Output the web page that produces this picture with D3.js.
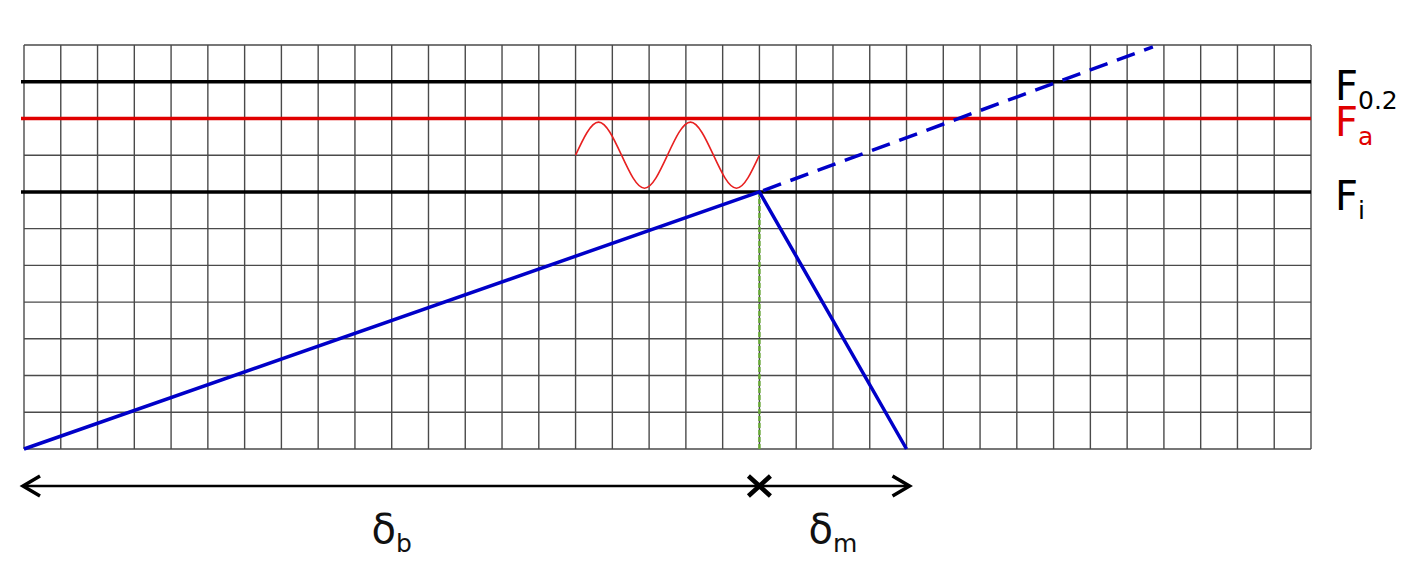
<!DOCTYPE html>
<html><head><meta charset="utf-8">
<script src="https://cdn.jsdelivr.net/npm/d3@7"></script>
<style>body{margin:0;background:#fff}svg{display:block}</style>
</head><body><div id="chart"></div>
<script>
// ---- data ----
const colCount = 35;                 // grid columns
const rowCount = 11;                 // grid rows
const levelMain = ["F", "F", "F"];
const levelSub = ["0.2", "a", "i"];
const levelValues = [10, 9, 7];      // grid rows from bottom
const loadX = [0, 20, 24];
const loadY = [0, 7, 0];
const extX = [20, 30.7];
const extY = [7, 10.95];
const waveX = [15, 15.625, 16.25, 16.875, 17.5, 18.125, 18.75, 19.375, 20];
const waveY = [8, 8.9, 8, 7.1, 8, 8.9, 8, 7.1, 8];
const deltaBounds = [0, 20, 24];
const deltaMain = ["δ", "δ"];
const deltaSub = ["b", "m"];

// ---- layout ----
const W = 1417, H = 582;
const svg = d3.select("#chart").append("svg").attr("width", W).attr("height", H);
const x = d3.scaleLinear().domain([0, colCount]).range([24, 1311]);
const y = d3.scaleLinear().domain([0, rowCount]).range([449, 45]);
const font = "'DejaVu Sans', sans-serif";

// grid
const g = svg.append("g");
g.selectAll("line.v").data(d3.range(colCount + 1)).join("line")
  .attr("x1", d => x(d)).attr("x2", d => x(d))
  .attr("y1", y(0)).attr("y2", y(rowCount))
  .attr("stroke", "#4a4a4a").attr("stroke-width", 1.4);
g.selectAll("line.h").data(d3.range(rowCount + 1)).join("line")
  .attr("y1", d => y(d)).attr("y2", d => y(d))
  .attr("x1", x(0)).attr("x2", x(colCount))
  .attr("stroke", "#4a4a4a").attr("stroke-width", 1.4);

// level lines
const levelColors = ["#000", "#e00000", "#000"];
svg.selectAll("line.level").data(levelValues).join("line")
  .attr("x1", x(0) - 3).attr("x2", x(colCount))
  .attr("y1", d => y(d)).attr("y2", d => y(d))
  .attr("stroke", (d, i) => levelColors[i]).attr("stroke-width", 3.5);

// level labels
levelValues.forEach((v, i) => {
  const t = svg.append("text").attr("x", 1335).attr("y", y(v) + 18)
    .attr("font-family", font).attr("font-size", 40).attr("fill", levelColors[i]);
  t.append("tspan").text(levelMain[i]);
  t.append("tspan").attr("dy", 9).attr("font-size", 25).text(levelSub[i]);
});

// wave
const line = d3.line().x(d => x(d[0])).y(d => y(d[1]));
svg.append("path").datum(waveX.map((d, i) => [d, waveY[i]]))
  .attr("d", line.curve(d3.curveNatural))
  .attr("fill", "none").attr("stroke", "#e82020").attr("stroke-width", 1.6);

// green dashed vertical
svg.append("line").attr("x1", x(loadX[1])).attr("x2", x(loadX[1]))
  .attr("y1", y(loadY[1])).attr("y2", y(0))
  .attr("stroke", "#66aa33").attr("stroke-width", 2.4).attr("stroke-dasharray", "5,2");

// blue loading path
const line2 = d3.line().x(d => x(d[0])).y(d => y(d[1]));
svg.append("path").datum(loadX.map((d, i) => [d, loadY[i]]))
  .attr("d", line2).attr("fill", "none").attr("stroke", "#0000c8")
  .attr("stroke-width", 3.5).attr("stroke-linejoin", "round");
svg.append("path").datum(extX.map((d, i) => [d, extY[i]]))
  .attr("d", line2).attr("fill", "none").attr("stroke", "#0000c8")
  .attr("stroke-width", 3.5).attr("stroke-dasharray", "19,10").attr("stroke-dashoffset", -4);

// delta arrows
const ay = 486;
const xa = x(deltaBounds[0]), xb = x(deltaBounds[2]), xm = x(deltaBounds[1]);
svg.append("line").attr("x1", xa + 1).attr("x2", xb + 1).attr("y1", ay).attr("y2", ay)
  .attr("stroke", "#000").attr("stroke-width", 2.5);
svg.append("path").attr("d", `M${xa + 16},${ay - 10} L${xa - 1},${ay} L${xa + 16},${ay + 10}`)
  .attr("fill", "none").attr("stroke", "#000").attr("stroke-width", 3.5).attr("stroke-linejoin", "miter");
svg.append("path").attr("d", `M${xb - 14},${ay - 10} L${xb + 3},${ay} L${xb - 14},${ay + 10}`)
  .attr("fill", "none").attr("stroke", "#000").attr("stroke-width", 3.5).attr("stroke-linejoin", "miter");
svg.append("path").attr("d", `M${xm - 11},${ay - 10} L${xm + 11},${ay + 10} M${xm - 11},${ay + 10} L${xm + 11},${ay - 10}`)
  .attr("stroke", "#000").attr("stroke-width", 4.5);

// delta labels
deltaSub.forEach((s, i) => {
  const cx = (x(deltaBounds[i]) + x(deltaBounds[i + 1])) / 2;
  const t = svg.append("text").attr("x", cx).attr("y", 543).attr("text-anchor", "middle")
    .attr("font-family", font).attr("font-size", 40).attr("fill", "#111");
  t.append("tspan").text(deltaMain[i]);
  t.append("tspan").attr("dy", 9).attr("font-size", 25).text(s);
});
</script></body></html>
